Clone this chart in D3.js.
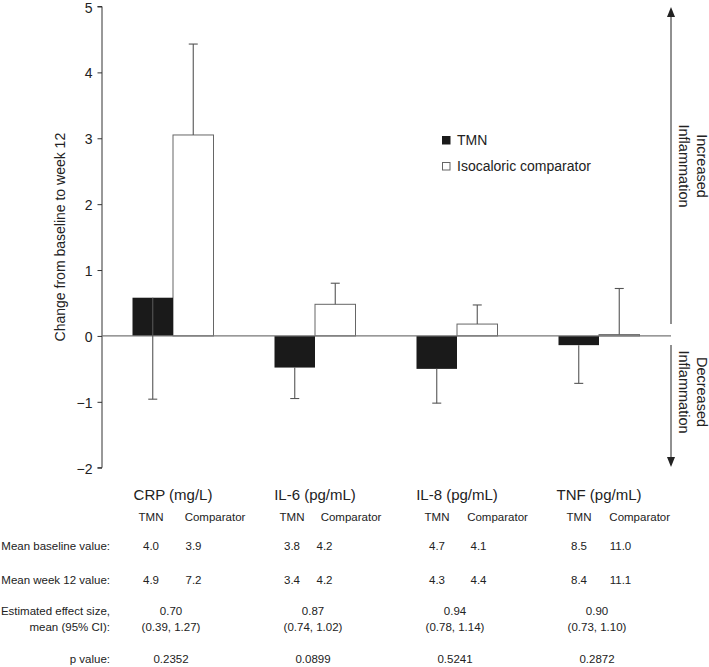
<!DOCTYPE html>
<html><head><meta charset="utf-8">
<script src="https://cdn.jsdelivr.net/npm/d3@7"></script>
<style>
body{margin:0;background:#fff;}
text{font-family:"Liberation Sans",Arial,Helvetica,sans-serif;fill:#222;}
</style></head>
<body><svg id="chart" width="709" height="667"></svg>
<script>
// ---- data ----
const categories = ["CRP (mg/L)", "IL-6 (pg/mL)", "IL-8 (pg/mL)", "TNF (pg/mL)"];
const seriesNames = ["TMN", "Isocaloric comparator"];
const tmnChange = [0.58, -0.48, -0.50, -0.14];
const tmnErrEnd = [-0.96, -0.95, -1.02, -0.72];
const compChange = [3.05, 0.48, 0.18, 0.02];
const compErrEnd = [4.43, 0.80, 0.47, 0.72];
const yTicks = [-2, -1, 0, 1, 2, 3, 4, 5];
const colHeaders = ["TMN", "Comparator"];
const rowLabels = ["Mean baseline value:", "Mean week 12 value:", "Estimated effect size,", "mean (95% CI):", "p value:"];
const baselineTMN = ["4.0", "3.8", "4.7", "8.5"];
const baselineComp = ["3.9", "4.2", "4.1", "11.0"];
const week12TMN = ["4.9", "3.4", "4.3", "8.4"];
const week12Comp = ["7.2", "4.2", "4.4", "11.1"];
const effectSize = ["0.70", "0.87", "0.94", "0.90"];
const effectCI = ["(0.39, 1.27)", "(0.74, 1.02)", "(0.78, 1.14)", "(0.73, 1.10)"];
const pValues = ["0.2352", "0.0899", "0.5241", "0.2872"];

// ---- layout ----
const svg = d3.select("#chart");
const x = d3.scaleBand().domain(categories).range([102, 670]);
const sub = d3.scaleBand().domain(seriesNames).range([-40.5, 40.5]);
const y = d3.scaleLinear().domain([-2, 5]).range([467.7, 6.5]);
const cx = c => x(c) + x.bandwidth() / 2;

// y axis
const yAxis = d3.axisLeft(y).tickValues(yTicks).tickSize(4.5).tickPadding(5)
  .tickFormat(d => d < 0 ? "\u2212" + Math.abs(d) : d);
const ga = svg.append("g").attr("transform", "translate(102,0)").call(yAxis);
ga.select(".domain").attr("stroke", "#333").attr("d", `M-4.5,${y(5)}H0V${y(-2)}H-4.5`);
ga.selectAll(".tick line").attr("stroke", "#333");
ga.selectAll(".tick text").attr("font-size", 14).attr("fill", "#222").attr("dy", "0.4em")
  .attr("font-family", '"Liberation Sans",Arial,sans-serif');

svg.append("text").attr("font-size", 14).attr("text-anchor", "middle")
  .attr("transform", `translate(65,${(y(5) + y(-2)) / 2}) rotate(-90)`)
  .text("Change from baseline to week 12");

// bars
const bars = categories.map((c, i) => ({c, i}));
const g = svg.append("g");
g.selectAll("rect.comp").data(bars).join("rect").attr("class", "comp")
  .attr("x", d => cx(d.c) + sub(seriesNames[1]))
  .attr("width", sub.bandwidth())
  .attr("y", d => y(Math.max(0, compChange[d.i])))
  .attr("height", d => Math.abs(y(compChange[d.i]) - y(0)))
  .attr("fill", "#fff").attr("stroke", "#666").attr("stroke-width", 1);
svg.append("line").attr("x1", 102).attr("x2", 671).attr("y1", y(0)).attr("y2", y(0))
  .attr("stroke", "#777").attr("stroke-width", 1.2);
g.selectAll("rect.tmn").data(bars).join("rect").attr("class", "tmn")
  .attr("x", d => cx(d.c) + sub(seriesNames[0]))
  .attr("width", sub.bandwidth())
  .attr("y", d => y(Math.max(0, tmnChange[d.i])))
  .attr("height", d => Math.abs(y(tmnChange[d.i]) - y(0)))
  .attr("fill", "#1a1a1a");

// error bars
function errBar(xc, v0, v1) {
  const e = svg.append("g").attr("stroke", "#555").attr("stroke-width", 1.1);
  e.append("line").attr("x1", xc).attr("x2", xc).attr("y1", y(v0)).attr("y2", y(v1));
  e.append("line").attr("x1", xc - 4.5).attr("x2", xc + 4.5).attr("y1", y(v1)).attr("y2", y(v1));
}
bars.forEach(d => {
  errBar(cx(d.c) + sub(seriesNames[0]) + sub.bandwidth() / 2, tmnChange[d.i], tmnErrEnd[d.i]);
  errBar(cx(d.c) + sub(seriesNames[1]) + sub.bandwidth() / 2, compChange[d.i], compErrEnd[d.i]);
});

// legend
const lg = svg.append("g").attr("transform", "translate(442,136)");
seriesNames.forEach((s, i) => {
  lg.append("rect").attr("x", 0.5).attr("y", i * 26 + 0.5).attr("width", 7.5).attr("height", 7.5)
    .attr("fill", i === 0 ? "#1a1a1a" : "#fff").attr("stroke", i === 0 ? "#1a1a1a" : "#666");
  lg.append("text").attr("x", 15).attr("y", i * 26 + 9).attr("font-size", 14).text(s);
});

// right side arrows
const ax = 671;
const ar = svg.append("g").attr("stroke", "#222").attr("stroke-width", 1);
ar.append("line").attr("x1", ax).attr("x2", ax).attr("y1", 14).attr("y2", 324);
ar.append("line").attr("x1", ax).attr("x2", ax).attr("y1", 345).attr("y2", 460);
svg.append("path").attr("d", `M${ax},7L${ax - 4},17L${ax + 4},17Z`).attr("fill", "#222");
svg.append("path").attr("d", `M${ax},467L${ax - 4},457L${ax + 4},457Z`).attr("fill", "#222");
function sideLabel(cy, l1, l2) {
  const t = svg.append("text").attr("font-size", 14.5).attr("text-anchor", "middle")
    .attr("transform", `translate(692,${cy}) rotate(90)`);
  t.append("tspan").attr("x", 0).attr("y", -5).text(l1);
  t.append("tspan").attr("x", 0).attr("y", 13).text(l2);
}
sideLabel(166, "Increased", "Inflammation");
sideLabel(392, "Decreased", "Inflammation");

// ---- table ----
const tmnOff = [-22, -23, -20, -20];
const compHeadOff = [42, 36, 40.5, 40.7];
const compValOff = [12.5, 1.5, 13.5, 10.7];
const tb = svg.append("g");
categories.forEach((c, i) => {
  const xc = cx(c);
  tb.append("text").attr("x", xc).attr("y", 500).attr("font-size", 15).attr("text-anchor", "middle").text(c);
  tb.append("text").attr("x", xc + tmnOff[i]).attr("y", 521).attr("font-size", 11.5).attr("text-anchor", "middle").text(colHeaders[0]);
  tb.append("text").attr("x", xc + compHeadOff[i]).attr("y", 521).attr("font-size", 11.5).attr("text-anchor", "middle").text(colHeaders[1]);
  tb.append("text").attr("x", xc + tmnOff[i]).attr("y", 550).attr("font-size", 11.5).attr("text-anchor", "middle").text(baselineTMN[i]);
  tb.append("text").attr("x", xc + compValOff[i]).attr("y", 550).attr("font-size", 11.5).text(baselineComp[i]);
  tb.append("text").attr("x", xc + tmnOff[i]).attr("y", 583.5).attr("font-size", 11.5).attr("text-anchor", "middle").text(week12TMN[i]);
  tb.append("text").attr("x", xc + compValOff[i]).attr("y", 583.5).attr("font-size", 11.5).text(week12Comp[i]);
  tb.append("text").attr("x", xc - 2).attr("y", 615).attr("font-size", 11.5).attr("text-anchor", "middle").text(effectSize[i]);
  tb.append("text").attr("x", xc - 2).attr("y", 631).attr("font-size", 11.5).attr("text-anchor", "middle").text(effectCI[i]);
  tb.append("text").attr("x", xc - 2).attr("y", 663).attr("font-size", 11.5).attr("text-anchor", "middle").text(pValues[i]);
});
const rowY = [550, 583.5, 615, 631, 663];
rowLabels.forEach((r, i) => {
  tb.append("text").attr("x", 110).attr("y", rowY[i]).attr("font-size", 11.5).attr("text-anchor", "end").text(r);
});
</script></body></html>
